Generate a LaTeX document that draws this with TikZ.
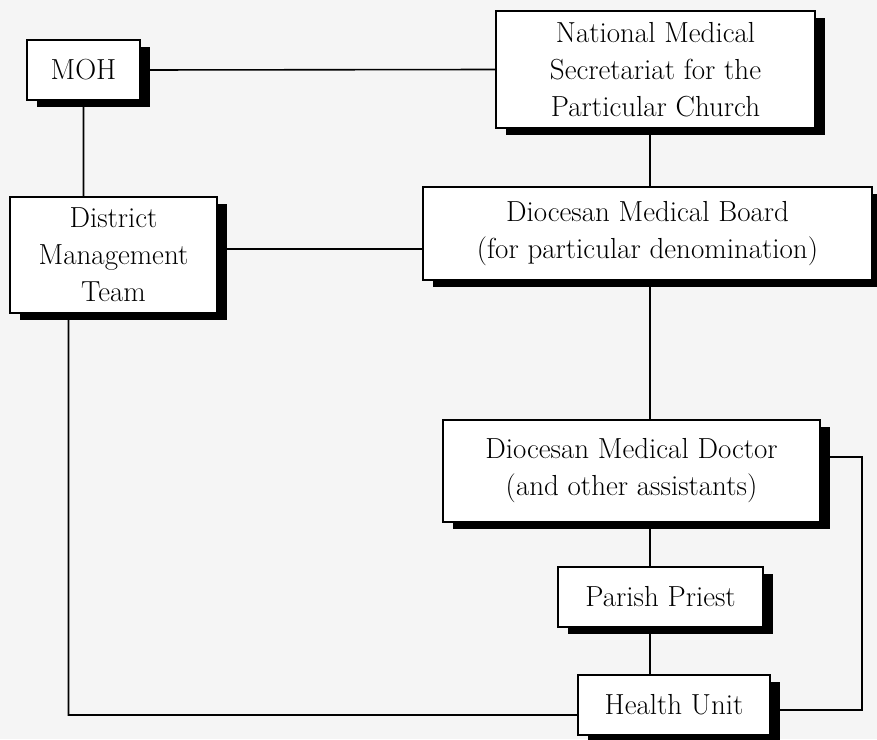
\documentclass[tikz,border=0pt]{standalone}
\usepackage{tikz}
\usetikzlibrary{shadows,backgrounds}

\begin{document}
\begin{tikzpicture}[x=1pt,y=-1pt,
  unitbox/.style={draw,line width=2.4pt,fill=white,align=center,inner sep=0pt,
    font=\fontsize{29}{37}\selectfont,
    drop shadow={shadow xshift=10pt,shadow yshift=-7pt,fill=black,opacity=1}},
  link/.style={draw,line width=1.6pt}]

  \useasboundingbox (0,0) rectangle (877,739);

  % GOVERNMENT SIDE
  \node[unitbox,minimum width=113pt,minimum height=60pt] (MOH) at (83.5,70) {MOH};
  \node[unitbox,minimum width=207pt,minimum height=116pt] (DistTeam) at (113.5,255)
    {District\\Management\\Team};

  % CHURCH SIDE
  \node[unitbox,minimum width=319pt,minimum height=117pt] (NatSec) at (655.5,69.5)
    {National Medical\\Secretariat for the\\Particular Church};
  \node[unitbox,minimum width=449pt,minimum height=93pt] (DioBoard) at (647.5,233.5)
    {Diocesan Medical Board\\(for particular denomination)};
  \node[unitbox,minimum width=377pt,minimum height=102pt] (DioDoctor) at (631.5,471)
    {Diocesan Medical Doctor\\(and other assistants)};
  \node[unitbox,minimum width=205pt,minimum height=60pt] (Priest) at (660.5,597)
    {Parish Priest};
  \node[unitbox,minimum width=192pt,minimum height=60pt] (Unit) at (674,705)
    {Health Unit};

  \coordinate (spine) at (650,0);
  \coordinate (rail) at (862,0);

  \begin{pgfonlayer}{background}
    \fill[black!4] (0,0) rectangle (877,739);
    \draw[link]
      (MOH.east) -- (NatSec.west)
      (MOH.south) -- (MOH.south |- DistTeam.north)
      ([yshift=6pt]DistTeam.east) -- ([yshift=6pt]DistTeam.east -| DioBoard.west)
      (spine |- NatSec.south) -- (spine |- DioBoard.north)
      (spine |- DioBoard.south) -- (spine |- DioDoctor.north)
      (spine |- DioDoctor.south) -- (spine |- Priest.north)
      (spine |- Priest.south) -- (spine |- Unit.north)
      ([yshift=14pt]DioDoctor.east) -| ([yshift=-5pt]Unit.east -| rail) -- ([yshift=-5pt]Unit.east)
      ([xshift=-45pt]DistTeam.south) |- ([yshift=-10pt]Unit.west)
      ;
  \end{pgfonlayer}
\end{tikzpicture}
\end{document}
